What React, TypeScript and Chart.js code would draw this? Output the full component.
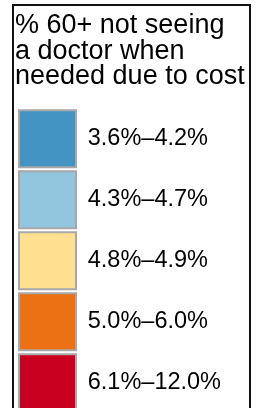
import React, { useEffect, useRef } from "react";
import { Chart, registerables } from "chart.js";

Chart.register(...registerables);

const titleLines = ["% 60+ not seeing", "a doctor when", "needed due to cost"];
const binLabels = ["3.6%–4.2%", "4.3%–4.7%", "4.8%–4.9%", "5.0%–6.0%", "6.1%–12.0%"];
const binColors = ["#4393c3", "#92c5de", "#fee090", "#ec7014", "#ca0020"];
const FONT = "'Liberation Sans', Arial, Helvetica, sans-serif";

const framePlugin = {
  id: "frame",
  beforeDraw(chart: any) {
    const ctx = chart.ctx;
    ctx.save();
    ctx.strokeStyle = "#111";
    ctx.lineWidth = 2;
    ctx.strokeRect(13, 5, 237, 900);
    ctx.restore();
  },
};

export default function App() {
  const ref = useRef<HTMLCanvasElement>(null);
  useEffect(() => {
    if (!ref.current) return;
    const chart = new Chart(ref.current, {
      type: "bar",
      data: {
        labels: [],
        datasets: binLabels.map((l, i) => ({
          label: l,
          data: [],
          backgroundColor: binColors[i],
          borderColor: "#a8a8a8",
          borderWidth: 2,
        })),
      },
      options: {
        responsive: false,
        animation: false,
        devicePixelRatio: 1,
        layout: { padding: { left: 15, right: 7, top: 4, bottom: 0 } },
        scales: { x: { display: false }, y: { display: false } },
        plugins: {
          tooltip: { enabled: false },
          title: {
            display: true,
            text: titleLines,
            align: "start",
            color: "#000",
            font: { family: FONT, size: 27, weight: "normal", lineHeight: 0.94 },
            padding: { top: 9, bottom: 17 },
          },
          legend: {
            display: true,
            position: "top",
            align: "start",
            labels: {
              boxWidth: 57,
              boxHeight: 57,
              padding: 4,
              color: "#000",
              font: { family: FONT, size: 23.5 },
            },
          },
        },
      },
      plugins: [framePlugin],
    });
    return () => chart.destroy();
  }, []);
  return (
    <div style={{ position: "absolute", left: 0, top: 0, width: 257, height: 408, overflow: "hidden", background: "#fff" }}>
      <canvas ref={ref} width={257} height={840} style={{ display: "block", width: 257, height: 840 }} />
    </div>
  );
}
